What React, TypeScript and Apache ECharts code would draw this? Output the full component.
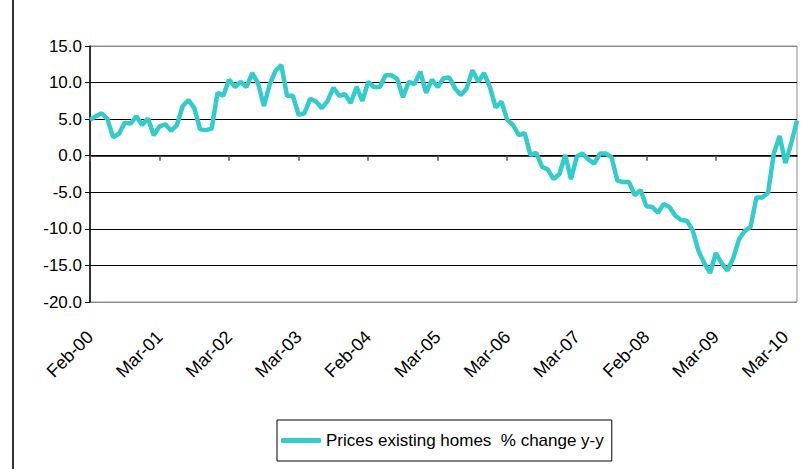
import React, { useEffect, useRef } from "react";
import * as echarts from "echarts";

const seriesName = "Prices existing homes  % change y-y";

const tickLabels = ["Feb-00", "Mar-01", "Mar-02", "Mar-03", "Feb-04", "Mar-05", "Mar-06", "Mar-07", "Feb-08", "Mar-09", "Mar-10"];

const priceChange = [
  4.9, 5.4, 5.8, 5.0, 2.5, 3.0, 4.5, 4.4, 5.4, 4.2, 5.1, 2.8,
  4.0, 4.3, 3.4, 4.2, 6.8, 7.6, 6.5, 3.6, 3.5, 3.7, 8.6, 8.2,
  10.4, 9.4, 10.1, 9.4, 11.3, 9.9, 6.8, 9.7, 11.6, 12.4, 8.2, 8.2,
  5.6, 5.8, 7.8, 7.4, 6.5, 7.5, 9.3, 8.2, 8.4, 7.2, 9.4, 7.5,
  10.1, 9.4, 9.4, 11.0, 11.0, 10.5, 8.0, 10.1, 9.8, 11.5, 8.6, 10.4,
  9.4, 10.6, 10.7, 9.2, 8.3, 9.2, 11.7, 10.1, 11.3, 9.4, 6.6, 7.4,
  4.9, 4.2, 2.8, 3.1, 0.1, 0.4, -1.5, -1.9, -3.2, -2.5, 0.1, -3.2,
  -0.1, 0.3, -0.5, -1.1, 0.3, 0.3, -0.2, -3.4, -3.6, -3.6, -5.4, -4.7,
  -6.9, -7.0, -7.8, -6.6, -7.0, -8.2, -8.8, -8.9, -10.2, -13.0, -14.7, -16.0,
  -13.3, -14.7, -15.7, -14.0, -11.4, -10.3, -9.7, -5.7, -5.7, -5.1, 0.3, 2.7,
  -1.0, 1.7, 4.8,
];

const labelEvery = 12;
const categories = priceChange.map((_, i) =>
  i % labelEvery === 0 && tickLabels[i / labelEvery] ? tickLabels[i / labelEvery] : "m" + i
);

const FONT = "'Liberation Sans', Arial, sans-serif";
const TEAL = "#33CCCC";

export default function App() {
  const ref = useRef<HTMLDivElement>(null);
  useEffect(() => {
    if (!ref.current) return;
    const chart = echarts.init(ref.current, null, { renderer: "svg" });
    chart.setOption({
      animation: false,
      backgroundColor: "#ffffff",
      grid: {
        left: 90,
        right: 6,
        top: 46,
        bottom: 167,
        show: true,
        borderColor: "#8c8c8c",
        borderWidth: 1,
      },
      legend: {
        data: [{ name: seriesName, icon: "roundRect" }],
        left: 277,
        top: 420,
        borderColor: "#000",
        borderWidth: 1,
        padding: [12, 8, 12, 4],
        itemWidth: 40,
        itemHeight: 5,
        itemStyle: { color: TEAL },
        textStyle: { fontSize: 17, color: "#000", fontFamily: FONT },
      },
      xAxis: [
        {
          type: "category",
          data: categories,
          boundaryGap: false,
          position: "bottom",
          axisLine: { show: false, onZero: false },
          axisTick: { show: false },
          splitLine: { show: false },
          axisLabel: {
            interval: labelEvery - 1,
            rotate: 45,
            margin: 32,
            fontSize: 18,
            color: "#000",
            fontFamily: FONT,
          },
        },
        {
          type: "category",
          data: categories,
          boundaryGap: false,
          position: "top",
          axisLine: { show: true, onZero: true, lineStyle: { color: "#000", width: 1.5 } },
          axisTick: { show: true, inside: true, length: 5, interval: labelEvery - 1, lineStyle: { color: "#555", width: 1.5 } },
          axisLabel: { show: false },
          splitLine: { show: false },
        },
      ],
      yAxis: {
        type: "value",
        min: -20,
        max: 15,
        interval: 5,
        axisLine: { show: true, lineStyle: { color: "#000", width: 1.5 } },
        axisTick: { show: true, length: 5, lineStyle: { color: "#000" } },
        axisLabel: {
          formatter: (v: number) => v.toFixed(1),
          fontSize: 17,
          color: "#000",
          fontFamily: FONT,
          margin: 8,
        },
        splitLine: {
          show: true,
          lineStyle: {
            color: ["#8c8c8c", "#000", "#000", "#000", "#000", "#000", "#000", "#8c8c8c"],
            width: 1,
          },
        },
      },
      series: [
        {
          name: seriesName,
          type: "line",
          xAxisIndex: 0,
          data: priceChange,
          symbol: "none",
          lineStyle: { color: TEAL, width: 4.5 },
          itemStyle: { color: TEAL },
        },
      ],
      graphic: [
        {
          type: "line",
          shape: { x1: 13, y1: 0, x2: 13, y2: 469 },
          style: { stroke: "#333", lineWidth: 2 },
        },
      ],
    });
    return () => chart.dispose();
  }, []);
  return (
    <div
      ref={ref}
      style={{ position: "fixed", left: 0, top: 0, width: 803, height: 469 }}
    />
  );
}
